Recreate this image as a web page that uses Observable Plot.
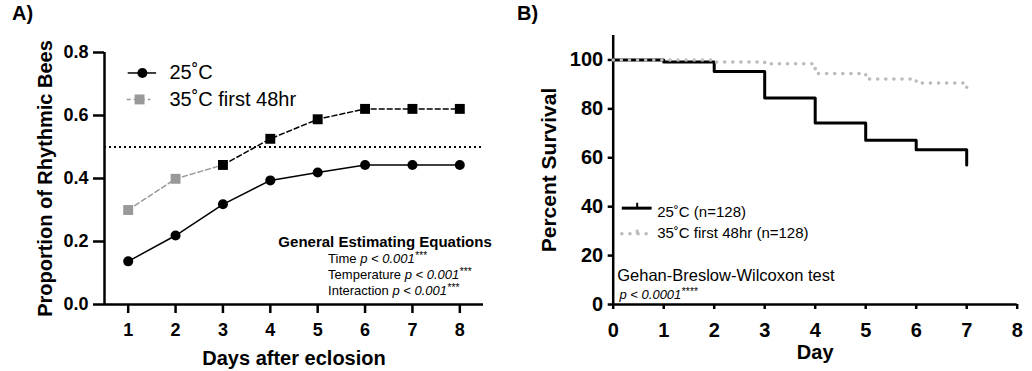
<!DOCTYPE html>
<html><head><meta charset="utf-8">
<script src="https://cdn.jsdelivr.net/npm/d3@7"></script>
<script src="https://cdn.jsdelivr.net/npm/@observablehq/plot@0.6"></script>
<style>
body{margin:0;background:#fff;}
#wrap{position:relative;width:1032px;height:371px;overflow:hidden;font-family:"Liberation Sans",Arial,sans-serif;}
.panel{position:absolute;top:0;}
.plabel{position:absolute;top:2px;font-weight:bold;font-size:20px;line-height:23px;}
</style></head><body>
<div id="wrap">
<div id="a" class="panel" style="left:0"></div>
<div id="b" class="panel" style="left:520px"></div>
<div class="plabel" style="left:12px">A)</div>
<div class="plabel" style="left:517px">B)</div>
</div>
<script>
// ---- Panel A data ----
const days = [1, 2, 3, 4, 5, 6, 7, 8];
const rhythmic25 = [0.137, 0.219, 0.318, 0.394, 0.419, 0.443, 0.443, 0.443];
const rhythmic35 = [0.300, 0.399, 0.443, 0.526, 0.588, 0.621, 0.621, 0.621];
const heatDays = 2; // days spent at 35°C (grey points)
const dayTicksA = [1, 2, 3, 4, 5, 6, 7, 8];
const yTicksA = [0, 0.2, 0.4, 0.6, 0.8];
const chanceLevel = [0.5];
const legendA = ["25˚C", "35˚C first 48hr"];
const statsA = ["General Estimating Equations", "Time p < 0.001***", "Temperature p < 0.001***", "Interaction p < 0.001***"];

// ---- Panel B data ----
const survDays = [0, 1, 2, 3, 4, 5, 6, 7];
const surv25 = [100, 99.2, 95.3, 84.4, 74.2, 67.2, 63.3, 57.0];
const surv35 = [100, 100, 99.2, 98.4, 94.5, 92.2, 90.6, 85.9];
const dayTicksB = [0, 1, 2, 3, 4, 5, 6, 7, 8];
const yTicksB = [0, 20, 40, 60, 80, 100];
const legendB = ["25˚C (n=128)", "35˚C first 48hr (n=128)"];
const statsB = ["Gehan-Breslow-Wilcoxon test", "p < 0.0001****"];

const FONT = '"Liberation Sans", Arial, sans-serif';
const GREY_A = "#999999";
const GREY_B = "#bbbbbb";

function richify(svg) {
  d3.select(svg).selectAll("text").each(function () {
    const t = this.textContent;
    const m = t.match(/^(.*?)(p < [0-9.]+)(\*+)$/);
    if (!m) return;
    const sel = d3.select(this);
    sel.text(null);
    if (m[1]) sel.append("tspan").text(m[1]);
    sel.append("tspan").attr("font-style", "italic").text(m[2]);
    sel.append("tspan").attr("font-style", "italic").attr("font-size", "0.8em").attr("dy", "-0.35em").text(m[3]);
  });
}

// ---- Panel A ----
const A = days.map((d, i) => ({day: d, r25: rhythmic25[i], r35: rhythmic35[i]}));
const legA = {x1: 1.0, x2: 1.6, xm: 1.27, xt: 1.87, y: [0.735, 0.651]};
const plotA = Plot.plot({
  width: 520, height: 371,
  marginLeft: 104, marginRight: 37, marginTop: 52, marginBottom: 67,
  style: {fontFamily: FONT, fontWeight: "bold", fontSize: "18px", color: "#000", background: "transparent", overflow: "visible"},
  x: {domain: [0.5, 8.5]},
  y: {domain: [0, 0.8]},
  marks: [
    Plot.axisY({ticks: yTicksA, tickFormat: d3.format(".1f"), tickSize: 11, tickPadding: 5, strokeWidth: 2.5, fontSize: 18, label: null}),
    Plot.axisX({ticks: dayTicksA, tickFormat: d3.format("d"), tickSize: 9, tickPadding: 10, strokeWidth: 2.5, fontSize: 18, label: null}),
    Plot.ruleX([0.5], {strokeWidth: 2.5}),
    Plot.ruleY([0], {strokeWidth: 2.5}),
    Plot.ruleY(chanceLevel, {strokeWidth: 2, strokeDasharray: "2,3"}),
    Plot.line(A.filter(d => d.day <= heatDays + 1), {x: "day", y: "r35", stroke: GREY_A, strokeWidth: 1.5, strokeDasharray: "5,3"}),
    Plot.line(A.filter(d => d.day >= heatDays + 1), {x: "day", y: "r35", stroke: "#000", strokeWidth: 1.5, strokeDasharray: "5,3"}),
    Plot.line(A, {x: "day", y: "r25", stroke: "#000", strokeWidth: 1.5}),
    Plot.dot(A.filter(d => d.day <= heatDays), {x: "day", y: "r35", symbol: "square", r: 5.6, fill: GREY_A}),
    Plot.dot(A.filter(d => d.day > heatDays), {x: "day", y: "r35", symbol: "square", r: 5.6, fill: "#000"}),
    Plot.dot(A, {x: "day", y: "r25", r: 5, fill: "#000"}),
    // legend
    Plot.ruleY([legA.y[0]], {x1: legA.x1, x2: legA.x2, strokeWidth: 1.5}),
    Plot.dot([legA.y[0]], {x: legA.xm + 0.03, y: d => d, r: 5, fill: "#000"}),
    Plot.ruleY([legA.y[1]], {x1: legA.x1 - 0.02, x2: legA.x2 - 0.12, stroke: GREY_A, strokeWidth: 1.5, strokeDasharray: "4,3"}),
    Plot.dot([legA.y[1]], {x: legA.xm - 0.03, y: d => d, r: 5.6, symbol: "square", fill: GREY_A}),
    Plot.text(legendA, {x: legA.xt, y: (d, i) => legA.y[i], text: d => d, textAnchor: "start", fontSize: 20, fontWeight: "normal"}),
    // statistics annotation
    Plot.text([statsA[0]], {x: 4.17, y: 0.197, text: d => d, textAnchor: "start", fontSize: 15, fontWeight: "bold"}),
    Plot.text(statsA.slice(1), {x: 5.22, y: (d, i) => [0.146, 0.095, 0.044][i], text: d => d, textAnchor: "start", fontSize: 13, fontWeight: "normal"}),
    // axis titles
    Plot.text(["Proportion of Rhythmic Bees"], {frameAnchor: "left", textAnchor: "middle", lineAnchor: "middle", rotate: -90, dx: -59, fontSize: 20, fontWeight: "bold"}),
    Plot.text(["Days after eclosion"], {frameAnchor: "bottom", textAnchor: "middle", lineAnchor: "middle", dy: 54, fontSize: 20, fontWeight: "bold"})
  ]
});
richify(plotA);
document.getElementById("a").append(plotA);

// ---- Panel B ----
const B = survDays.map((d, i) => ({day: d, s25: surv25[i], s35: surv35[i]}));
const legB = {x1: 0.18, x2: 0.77, xm: 0.475, xt: 0.871, yLine: [39.4, 28.9], yText: [37.7, 29.3]};
const plotB = Plot.plot({
  width: 512, height: 371,
  marginLeft: 92.7, marginRight: 15.3, marginTop: 35, marginBottom: 67,
  style: {fontFamily: FONT, fontWeight: "bold", fontSize: "19px", color: "#000", background: "transparent", overflow: "visible"},
  x: {domain: [0, 8]},
  y: {domain: [0, 110]},
  marks: [
    Plot.axisY({ticks: yTicksB, tickFormat: d3.format("d"), tickSize: 5, tickPadding: 5, strokeWidth: 2.5, fontSize: 20, label: null}),
    Plot.axisX({ticks: dayTicksB, tickFormat: d3.format("d"), tickSize: 5, tickPadding: 13, strokeWidth: 2.5, fontSize: 20, label: null}),
    Plot.ruleX([0], {strokeWidth: 2.5}),
    Plot.ruleY([0], {strokeWidth: 2.5}),
    Plot.line(B, {x: "day", y: "s25", curve: "step-after", stroke: "#000", strokeWidth: 3}),
    Plot.line(B, {x: "day", y: "s35", curve: "step-after", stroke: GREY_B, strokeWidth: 3.5, strokeDasharray: "0.1,8", strokeLinecap: "round"}),
    // legend
    Plot.ruleY([legB.yLine[0]], {x1: legB.x1, x2: legB.x2, strokeWidth: 3}),
    Plot.ruleX([legB.xm], {y1: legB.yLine[0], y2: legB.yLine[0] + 2, strokeWidth: 2}),
    Plot.ruleY([legB.yLine[1]], {x1: legB.x1, x2: legB.x2, stroke: GREY_B, strokeWidth: 3.5, strokeDasharray: "0.1,8", strokeLinecap: "round"}),
    Plot.ruleX([legB.xm], {y1: legB.yLine[1], y2: legB.yLine[1] + 1.5, stroke: GREY_B, strokeWidth: 3}),
    Plot.text(legendB, {x: legB.xt, y: (d, i) => legB.yText[i], text: d => d, textAnchor: "start", fontSize: 15, fontWeight: "normal"}),
    // statistics annotation
    Plot.text([statsB[0]], {x: 0.079, y: 11.9, text: d => d, textAnchor: "start", fontSize: 16.5, fontWeight: "normal"}),
    Plot.text([statsB[1]], {x: 0.125, y: 4.1, text: d => d, textAnchor: "start", fontSize: 13, fontWeight: "normal"}),
    // axis titles
    Plot.text(["Percent Survival"], {frameAnchor: "left", textAnchor: "middle", lineAnchor: "middle", rotate: -90, dx: -64, fontSize: 21, fontWeight: "bold"}),
    Plot.text(["Day"], {frameAnchor: "bottom", textAnchor: "middle", lineAnchor: "middle", dy: 48, fontSize: 20, fontWeight: "bold"})
  ]
});
richify(plotB);
document.getElementById("b").append(plotB);
</script>
</body></html>
